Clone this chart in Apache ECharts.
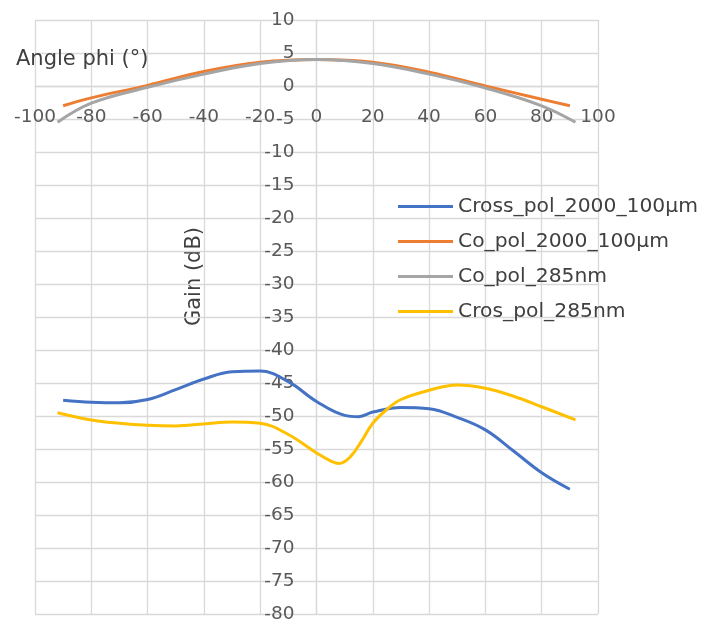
<!DOCTYPE html>
<html>
<head>
<meta charset="utf-8">
<script src="https://cdn.jsdelivr.net/npm/echarts@6/dist/echarts.min.js"></script>
<style>html,body{margin:0;padding:0;background:#fff}#c{width:705px;height:628px}</style>
</head>
<body>
<div id="c"></div>
<script>
// Series names
const seriesNames = ['Cross_pol_2000_100µm', 'Co_pol_2000_100µm', 'Co_pol_285nm', 'Cros_pol_285nm'];
// Angle (x) values and gain (y) values per series
const crossPol2000X = [-90, -80, -70, -60, -50, -40, -30, -20, -10, 0, 10, 15, 20, 30, 40, 50, 60, 70, 80, 90];
const crossPol2000Y = [-47.6, -47.9, -48.0, -47.5, -46.0, -44.4, -43.3, -43.2, -44.8, -47.8, -49.9, -50.1, -49.4, -48.7, -48.9, -50.2, -52.1, -55.3, -58.6, -61.1];
const coPol2000X = [-90, -80, -60, -40, -20, 0, 20, 40, 60, 80, 90];
const coPol2000Y = [-3.0, -1.8, 0.1, 2.2, 3.6, 4.0, 3.6, 2.1, 0.0, -2.0, -3.0];
const coPol285X = [-92, -80, -60, -40, -20, 0, 20, 40, 60, 80, 92];
const coPol285Y = [-5.5, -2.6, -0.2, 1.8, 3.4, 4.0, 3.4, 1.8, -0.3, -3.0, -5.5];
const crosPol285X = [-92, -80, -70, -60, -50, -40, -30, -20, -10, 0, 5, 8, 12, 16, 20, 25, 30, 40, 50, 60, 70, 80, 92];
const crosPol285Y = [-49.5, -50.6, -51.1, -51.4, -51.5, -51.2, -50.9, -51.1, -52.8, -55.6, -56.8, -57.2, -56.2, -53.8, -51.1, -49.0, -47.5, -46.1, -45.3, -45.8, -47.0, -48.6, -50.6];
// Axis ranges and titles
const xMin = -100, xMax = 100, xStep = 20;
const yMin = -80, yMax = 10, yStep = 5;
const xTitle = 'Angle phi (°)';
const yTitle = 'Gain (dB)';
const colors = ['#4472C4', '#ED7D31', '#A5A5A5', '#FFC000'];

const xs = [crossPol2000X, coPol2000X, coPol285X, crosPol285X];
const ys = [crossPol2000Y, coPol2000Y, coPol285Y, crosPol285Y];

const FONT = 'DejaVu Sans';
const GRID = {left: 35, right: 107, top: 20, bottom: 14};
const chart = echarts.init(document.getElementById('c'), null, {renderer: 'canvas'});
function build(xOff, yOff) {
  return {
    animation: false,
    backgroundColor: '#fff',
    textStyle: {fontFamily: FONT},
    grid: Object.assign({containLabel: false, outerBoundsMode: 'none'}, GRID),
    title: {
      text: xTitle, left: 16, top: 49, padding: 0,
      textStyle: {fontFamily: FONT, fontSize: 21, fontWeight: 'normal', color: '#404040'}
    },
    graphic: [{
      type: 'text', left: 184, top: 227, rotation: Math.PI / 2,
      style: {text: yTitle, font: '21px "DejaVu Sans"', fill: '#404040'}
    }],
    legend: {
      orient: 'vertical', left: 393, top: 191,
      icon: 'rect', itemWidth: 55, itemHeight: 3, itemGap: 14,
      textStyle: {fontFamily: FONT, fontSize: 20.3, color: '#404040', lineHeight: 21},
      data: seriesNames
    },
    xAxis: {
      type: 'value', min: xMin, max: xMax, interval: xStep,
      position: 'bottom', offset: xOff,
      axisLine: {onZero: false, lineStyle: {color: '#d9d9d9', width: 1.3}},
      axisTick: {show: false},
      axisLabel: {fontFamily: FONT, fontSize: 18.5, color: '#595959', margin: 22},
      splitLine: {show: true, lineStyle: {color: '#d9d9d9', width: 1.3}}
    },
    yAxis: {
      type: 'value', min: yMin, max: yMax, interval: yStep,
      position: 'left', offset: yOff,
      axisLine: {onZero: false, lineStyle: {color: '#d9d9d9', width: 1.3}},
      axisTick: {show: false},
      axisLabel: {fontFamily: FONT, fontSize: 18.5, color: '#595959', margin: 22},
      splitLine: {show: true, lineStyle: {color: '#d9d9d9', width: 1.3}}
    },
    series: seriesNames.map((n, i) => ({
      name: n, type: 'line', smooth: 0.4, showSymbol: false, symbol: 'none',
      color: colors[i],
      lineStyle: {width: 3, color: colors[i]},
      data: xs[i].map((x, j) => [x, ys[i][j]])
    }))
  };
}
chart.setOption(build(0, 0));
// Move axes so they cross at the origin, using the library's own scales
const origin = chart.convertToPixel({gridIndex: 0}, [0, 0]);
const corner = chart.convertToPixel({gridIndex: 0}, [xMin, yMin]);
chart.setOption(build(-(corner[1] - origin[1]), -(origin[0] - corner[0])));
</script>
</body>
</html>
